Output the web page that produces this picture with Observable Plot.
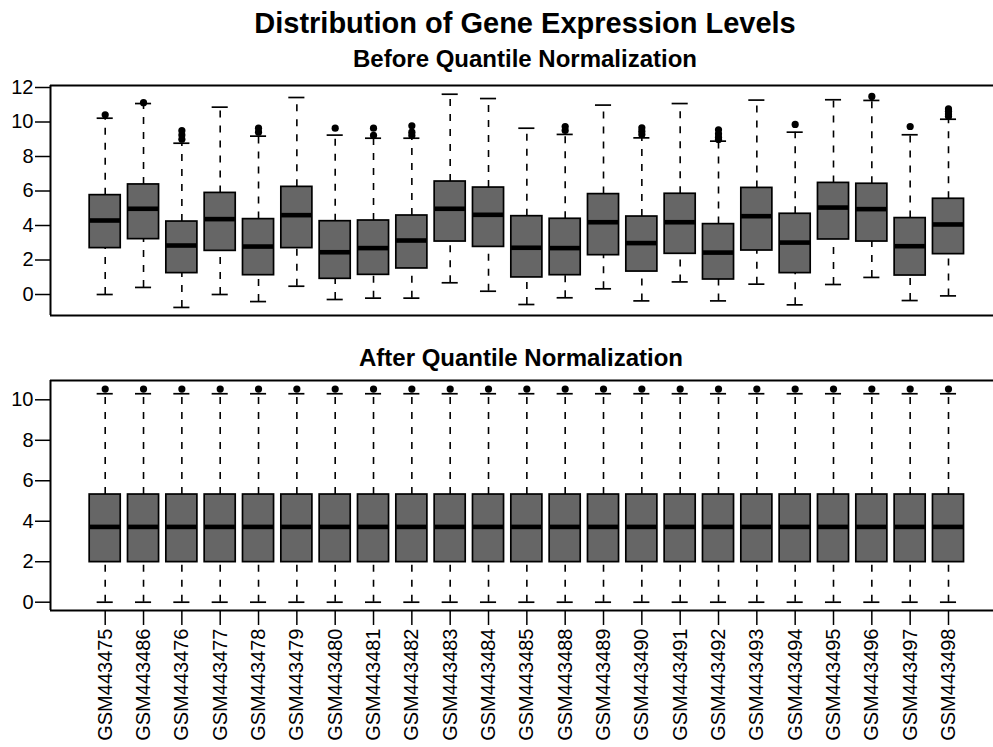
<!DOCTYPE html>
<html>
<head>
<meta charset="utf-8">
<script src="https://cdn.jsdelivr.net/npm/d3@7"></script>
<script src="https://cdn.jsdelivr.net/npm/@observablehq/plot@0.6"></script>
<style>
  html, body { margin: 0; padding: 0; background: #fff; }
  #wrap { position: relative; width: 993px; height: 747px; overflow: hidden; font-family: "Liberation Sans", Arial, Helvetica, sans-serif; color: #000; }
  .ttl { position: absolute; left: 0; text-align: center; font-weight: bold; line-height: 1; white-space: nowrap; }
  .panel { position: absolute; left: 0; }
</style>
</head>
<body>
<div id="wrap">
  <div class="ttl" id="t0" style="top:8.8px;width:1050px;font-size:29px;">Distribution of Gene Expression Levels</div>
  <div class="ttl" id="t1" style="top:47px;width:1050px;font-size:24px;">Before Quantile Normalization</div>
  <div class="ttl" id="t2" style="top:345.7px;width:1042px;font-size:24px;">After Quantile Normalization</div>
  <div class="panel" id="p1" style="top:75px;"></div>
  <div class="panel" id="p2" style="top:370px;"></div>
</div>
<script>
// ---- data ----
const samples = ["GSM443475","GSM443486","GSM443476","GSM443477","GSM443478","GSM443479","GSM443480","GSM443481","GSM443482","GSM443483","GSM443484","GSM443485","GSM443488","GSM443489","GSM443490","GSM443491","GSM443492","GSM443493","GSM443494","GSM443495","GSM443496","GSM443497","GSM443498"];

// Before quantile normalization
const beforeLow    = [0.00, 0.41, -0.75, 0.00, -0.41, 0.48, -0.29, -0.21, -0.21, 0.68, 0.19, -0.58, -0.19, 0.33, -0.37, 0.73, -0.37, 0.60, -0.60, 0.58, 0.99, -0.35, -0.08];
const beforeQ1     = [2.69, 3.21, 1.24, 2.53, 1.12, 2.69, 0.91, 1.14, 1.51, 3.07, 2.76, 0.99, 1.12, 2.28, 1.33, 2.36, 0.87, 2.55, 1.24, 3.19, 3.07, 1.10, 2.34];
const beforeMedian = [4.29, 4.97, 2.84, 4.37, 2.78, 4.60, 2.45, 2.69, 3.13, 4.97, 4.62, 2.71, 2.69, 4.19, 2.98, 4.19, 2.43, 4.54, 3.01, 5.04, 4.95, 2.80, 4.06];
const beforeQ3     = [5.76, 6.38, 4.23, 5.89, 4.37, 6.24, 4.25, 4.29, 4.58, 6.55, 6.20, 4.54, 4.39, 5.82, 4.52, 5.84, 4.08, 6.18, 4.68, 6.47, 6.42, 4.43, 5.55];
const beforeHigh   = [10.22, 11.07, 8.77, 10.86, 9.18, 11.42, 9.24, 9.06, 9.06, 11.61, 11.36, 9.64, 9.28, 10.98, 9.08, 11.07, 8.89, 11.27, 9.41, 11.29, 11.25, 9.26, 10.16];
const beforeOutliers = [
  [10.42], [11.12], [9.00, 9.24, 9.50], [], [9.41, 9.64], [], [9.64], [9.22, 9.64], [9.22, 9.41, 9.78],
  [], [], [], [9.51, 9.74], [], [9.28, 9.47, 9.66], [], [8.99, 9.12, 9.32, 9.55], [], [9.86], [], [11.48], [9.74],
  [10.32, 10.47, 10.62, 10.76]
];

// After quantile normalization
const afterLow    = [0, 0, 0, 0, 0, 0, 0, 0, 0, 0, 0, 0, 0, 0, 0, 0, 0, 0, 0, 0, 0, 0, 0];
const afterQ1     = [1.98, 1.98, 1.98, 1.98, 1.98, 1.98, 1.98, 1.98, 1.98, 1.98, 1.98, 1.98, 1.98, 1.98, 1.98, 1.98, 1.98, 1.98, 1.98, 1.98, 1.98, 1.98, 1.98];
const afterMedian = [3.72, 3.72, 3.72, 3.72, 3.72, 3.72, 3.72, 3.72, 3.72, 3.72, 3.72, 3.72, 3.72, 3.72, 3.72, 3.72, 3.72, 3.72, 3.72, 3.72, 3.72, 3.72, 3.72];
const afterQ3     = [5.32, 5.32, 5.32, 5.32, 5.32, 5.32, 5.32, 5.32, 5.32, 5.32, 5.32, 5.32, 5.32, 5.32, 5.32, 5.32, 5.32, 5.32, 5.32, 5.32, 5.32, 5.32, 5.32];
const afterHigh   = [10.30, 10.30, 10.30, 10.30, 10.30, 10.30, 10.30, 10.30, 10.30, 10.30, 10.30, 10.30, 10.30, 10.30, 10.30, 10.30, 10.30, 10.30, 10.30, 10.30, 10.30, 10.30, 10.30];
const afterOutliers = [[10.53],[10.53],[10.53],[10.53],[10.53],[10.53],[10.53],[10.53],[10.53],[10.53],[10.53],[10.53],[10.53],[10.53],[10.53],[10.53],[10.53],[10.53],[10.53],[10.53],[10.53],[10.53],[10.53]];

const beforeTicks = [0, 2, 4, 6, 8, 10, 12];
const afterTicks = [0, 2, 4, 6, 8, 10];

// ---- build ----
function table(lo, q1, med, q3, hi) {
  return samples.map((s, k) => ({ i: k + 1, name: s, lo: lo[k], q1: q1[k], med: med[k], q3: q3[k], hi: hi[k] }));
}
function points(outs) {
  const r = [];
  outs.forEach((arr, k) => arr.forEach(v => r.push({ i: k + 1, v })));
  return r;
}

const HALF = 0.405, CAP = 0.21;
const FONT = "Liberation Sans, Arial, Helvetica, sans-serif";

function boxMarks(rows, pts) {
  return [
    Plot.ruleX(rows, { x: "i", y1: "q3", y2: "hi", stroke: "#000", strokeWidth: 1.6, strokeDasharray: "7,8" }),
    Plot.ruleX(rows, { x: "i", y1: "lo", y2: "q1", stroke: "#000", strokeWidth: 1.6, strokeDasharray: "7,8" }),
    Plot.ruleY(rows, { y: "hi", x1: d => d.i - CAP, x2: d => d.i + CAP, stroke: "#000", strokeWidth: 1.7 }),
    Plot.ruleY(rows, { y: "lo", x1: d => d.i - CAP, x2: d => d.i + CAP, stroke: "#000", strokeWidth: 1.7 }),
    Plot.rect(rows, { x1: d => d.i - HALF, x2: d => d.i + HALF, y1: "q1", y2: "q3", fill: "#666666", stroke: "#000", strokeWidth: 1.7 }),
    Plot.ruleY(rows, { y: "med", x1: d => d.i - HALF, x2: d => d.i + HALF, stroke: "#000", strokeWidth: 4.6 }),
    Plot.dot(pts, { x: "i", y: "v", r: 3.6, fill: "#000", stroke: "none" })
  ];
}

const xDomain = [-0.427, 24.174];

const p1 = Plot.plot({
  width: 993,
  height: 250,
  marginLeft: 50,
  marginRight: 0,
  marginTop: 10,
  marginBottom: 10,
  style: { fontFamily: FONT, background: "transparent", color: "#000", overflow: "visible" },
  x: { domain: xDomain, axis: null },
  y: { domain: [-1.217, 12.116] },
  marks: [
    ...boxMarks(table(beforeLow, beforeQ1, beforeMedian, beforeQ3, beforeHigh), points(beforeOutliers)),
    Plot.ruleY([12.116], { stroke: "#000", strokeWidth: 2 }),
    Plot.ruleY([-1.217], { stroke: "#000", strokeWidth: 2 }),
    Plot.ruleX([-0.427], { stroke: "#000", strokeWidth: 2 }),
    Plot.axisY({ ticks: beforeTicks, tickSize: 15, tickPadding: 2, fontSize: 20, strokeWidth: 1.5, label: null, tickFormat: d => String(d) })
  ]
});
document.getElementById("p1").appendChild(p1);

const p2 = Plot.plot({
  width: 993,
  height: 377,
  marginLeft: 50,
  marginRight: 0,
  marginTop: 10,
  marginBottom: 137,
  style: { fontFamily: FONT, background: "transparent", color: "#000", overflow: "visible" },
  x: { domain: xDomain },
  y: { domain: [-0.41, 10.954] },
  marks: [
    ...boxMarks(table(afterLow, afterQ1, afterMedian, afterQ3, afterHigh), points(afterOutliers)),
    Plot.ruleY([10.954], { stroke: "#000", strokeWidth: 2 }),
    Plot.ruleY([-0.41], { stroke: "#000", strokeWidth: 2 }),
    Plot.ruleX([-0.427], { stroke: "#000", strokeWidth: 2 }),
    Plot.axisY({ ticks: afterTicks, tickSize: 15, tickPadding: 2, fontSize: 20, strokeWidth: 1.5, label: null, tickFormat: d => String(d) }),
    Plot.axisX({ ticks: samples.map((s, k) => k + 1), tickFormat: d => samples[d - 1], tickRotate: -90, tickSize: 15, tickPadding: 3, fontSize: 20, strokeWidth: 1.5, label: null })
  ]
});
document.getElementById("p2").appendChild(p2);
</script>
</body>
</html>
